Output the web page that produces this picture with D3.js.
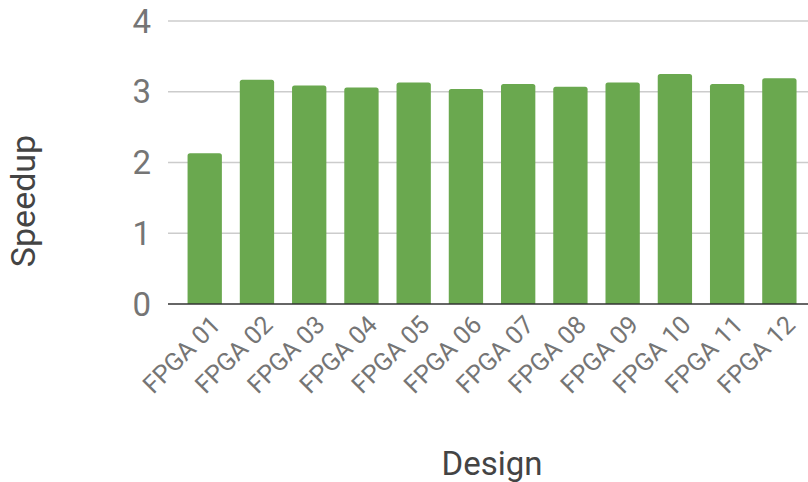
<!DOCTYPE html>
<html>
<head>
<meta charset="utf-8">
<script src="https://cdn.jsdelivr.net/npm/d3@7"></script>
<style>
  html, body { margin: 0; padding: 0; background: #ffffff; }
  svg { display: block; font-family: Roboto, "Noto Sans", sans-serif; }
</style>
</head>
<body>
<svg id="chart" width="808" height="482"></svg>
<script>
// Speedup per FPGA design
const designs = ["FPGA 01", "FPGA 02", "FPGA 03", "FPGA 04", "FPGA 05", "FPGA 06",
                 "FPGA 07", "FPGA 08", "FPGA 09", "FPGA 10", "FPGA 11", "FPGA 12"];
const speedup = [2.13, 3.17, 3.09, 3.06, 3.13, 3.04, 3.11, 3.07, 3.13, 3.25, 3.11, 3.19];
const yTicks = [0, 1, 2, 3, 4];

const svg = d3.select("#chart");

const gridLeft = 168, gridRight = 808;
const x = d3.scaleBand()
  .domain(designs)
  .range([178.6, 805.5])
  .paddingInner(0.343)
  .paddingOuter(0.1715);

const y = d3.scaleLinear()
  .domain([0, 4])
  .range([304, 21]);

// horizontal gridlines
svg.append("g")
  .selectAll("line")
  .data(yTicks.filter(d => d !== 0))
  .join("line")
  .attr("x1", gridLeft)
  .attr("x2", gridRight)
  .attr("y1", d => y(d))
  .attr("y2", d => y(d))
  .attr("stroke", "#cccccc")
  .attr("stroke-width", 1.3);

// y tick labels
svg.append("g")
  .selectAll("text")
  .data(yTicks)
  .join("text")
  .attr("x", 151)
  .attr("y", d => y(d))
  .attr("dy", "0.35em")
  .attr("text-anchor", "end")
  .attr("fill", "#757575")
  .attr("font-size", 33)
  .text(d => d);

// bars with slightly rounded top corners
const r = 2.5;
function barPath(d) {
  const x0 = x(d.name), w = x.bandwidth();
  const top = y(d.value), bottom = y(0);
  return `M${x0},${bottom}V${top + r}Q${x0},${top} ${x0 + r},${top}` +
         `H${x0 + w - r}Q${x0 + w},${top} ${x0 + w},${top + r}V${bottom}Z`;
}
svg.append("g")
  .selectAll("path")
  .data(designs.map((name, i) => ({ name, value: speedup[i] })))
  .join("path")
  .attr("d", barPath)
  .attr("fill", "#6aa84f");

// baseline
svg.append("line")
  .attr("x1", gridLeft)
  .attr("x2", gridRight)
  .attr("y1", y(0))
  .attr("y2", y(0))
  .attr("stroke", "#333333")
  .attr("stroke-width", 1.5);

// x category labels, rotated
svg.append("g")
  .selectAll("text")
  .data(designs)
  .join("text")
  .attr("transform", d => `translate(${x(d) + x.bandwidth() / 2 + 11},${320}) rotate(-45)`)
  .attr("text-anchor", "end")
  .attr("dy", "0.35em")
  .attr("fill", "#757575")
  .attr("font-size", 25)
  .text(d => d);

// axis titles
svg.append("text")
  .attr("x", 492)
  .attr("y", 475)
  .attr("text-anchor", "middle")
  .attr("fill", "#444444")
  .attr("font-size", 33)
  .text("Design");

svg.append("text")
  .attr("transform", "translate(35,201) rotate(-90)")
  .attr("text-anchor", "middle")
  .attr("fill", "#444444")
  .attr("font-size", 34)
  .text("Speedup");
</script>
</body>
</html>
